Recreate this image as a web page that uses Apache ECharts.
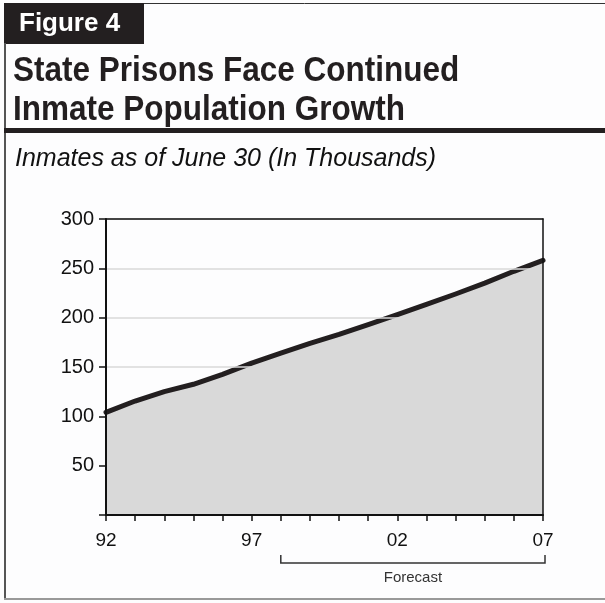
<!DOCTYPE html>
<html>
<head>
<meta charset="utf-8">
<script src="https://cdn.jsdelivr.net/npm/echarts@6/dist/echarts.min.js"></script>
<style>
html,body{margin:0;padding:0;background:#fdfdfe;}
#chart{width:605px;height:603px;}
</style>
</head>
<body>
<div id="chart"></div>
<script>
// Data
const years = ['92','93','94','95','96','97','98','99','00','01','02','03','04','05','06','07'];
const inmates = [104, 115.5, 125, 132.5, 142.5, 154, 164, 174, 183, 193, 203, 213.5, 224, 235, 247, 258];
const yTicks = [0, 50, 100, 150, 200, 250, 300];
const forecastStart = '98';
const forecastEnd = '07';

const FONT = '"Liberation Sans", Arial, Helvetica, sans-serif';
const chart = echarts.init(document.getElementById('chart'), null, {renderer: 'canvas'});

const option = {
  backgroundColor: '#fdfdfe',
  animation: false,
  grid: {left: 106, right: 62, top: 219, bottom: 88, containLabel: false},
  xAxis: [{
    type: 'category',
    data: years,
    boundaryGap: false,
    z: 5,
    axisLine: {show: true, onZero: false, lineStyle: {color: '#111', width: 2}},
    axisTick: {show: true, interval: 0, length: 6, lineStyle: {color: '#111', width: 1.5}},
    axisLabel: {interval: 4, margin: 16, color: '#111', fontSize: 19, fontFamily: FONT},
    splitLine: {show: false}
  }, {
    type: 'category',
    data: years,
    boundaryGap: false,
    position: 'top',
    z: 5,
    axisLine: {show: true, onZero: false, lineStyle: {color: '#111', width: 1.5}},
    axisTick: {show: false},
    axisLabel: {show: false},
    splitLine: {show: false}
  }],
  yAxis: [{
    type: 'value',
    min: yTicks[0],
    max: yTicks[yTicks.length - 1],
    interval: 50,
    z: 5,
    axisLine: {show: true, onZero: false, lineStyle: {color: '#111', width: 2}},
    axisTick: {show: true, length: 7, lineStyle: {color: '#111', width: 1.5}},
    axisLabel: {
      margin: 12, color: '#111', fontSize: 20, fontFamily: FONT,
      formatter: v => (v === 0 ? '' : String(v))
    },
    splitLine: {show: true, lineStyle: {color: '#d9d9d9', width: 1.5}}
  }, {
    type: 'value',
    min: yTicks[0],
    max: yTicks[yTicks.length - 1],
    interval: 50,
    position: 'right',
    z: 5,
    axisLine: {show: true, onZero: false, lineStyle: {color: '#111', width: 1.5}},
    axisTick: {show: false},
    axisLabel: {show: false},
    splitLine: {show: false}
  }],
  series: [{
    type: 'line',
    data: inmates,
    xAxisIndex: 0,
    yAxisIndex: 0,
    symbol: 'none',
    smooth: false,
    lineStyle: {color: '#231f20', width: 5, cap: 'round', join: 'round'},
    areaStyle: {color: '#d9d9d9', opacity: 1},
    z: 2
  }]
};
chart.setOption(option);

// Annotations: frame, titles, forecast bracket
const x0 = chart.convertToPixel({xAxisIndex: 0}, forecastStart);
const x1 = chart.convertToPixel({xAxisIndex: 0}, forecastEnd) + 2;
const bracketY = 563;

chart.setOption({
  graphic: [
    {type: 'line', shape: {x1: 4, y1: 3.5, x2: 605, y2: 3.5}, style: {stroke: '#333', lineWidth: 1}, z: 10},
    {type: 'rect', shape: {x: 4, y: 3, width: 140, height: 41}, style: {fill: '#231f20'}, z: 10},
    {type: 'text', x: 19, y: 24, style: {text: 'Figure 4', fill: '#ffffff', font: 'bold 26px ' + FONT, verticalAlign: 'middle'}, z: 11},
    {type: 'line', shape: {x1: 5, y1: 43, x2: 5, y2: 599}, style: {stroke: '#555', lineWidth: 2}, z: 10},
    {type: 'line', shape: {x1: 4, y1: 599, x2: 605, y2: 599}, style: {stroke: '#999', lineWidth: 2}, z: 10},
    {type: 'text', x: 13, y: 71, scaleX: 0.9, style: {text: 'State Prisons Face Continued', fill: '#231f20', font: 'bold 35px ' + FONT, verticalAlign: 'middle'}, z: 10},
    {type: 'text', x: 13, y: 110, scaleX: 0.9, style: {text: 'Inmate Population Growth', fill: '#231f20', font: 'bold 35px ' + FONT, verticalAlign: 'middle'}, z: 10},
    {type: 'rect', shape: {x: 4, y: 128, width: 601, height: 5}, style: {fill: '#231f20'}, z: 10},
    {type: 'text', x: 15, y: 159, style: {text: 'Inmates as of June 30 (In Thousands)', fill: '#111', font: 'italic 25px ' + FONT, verticalAlign: 'middle'}, z: 10},
    {type: 'polyline', shape: {points: [[x0, bracketY - 8], [x0, bracketY], [x1, bracketY], [x1, bracketY - 8]]}, style: {stroke: '#333', lineWidth: 1.5, fill: null}, z: 10},
    {type: 'text', x: (x0 + x1) / 2, y: bracketY + 15, style: {text: 'Forecast', fill: '#333', font: '15px ' + FONT, align: 'center', verticalAlign: 'middle'}, z: 10}
  ]
});
</script>
</body>
</html>
